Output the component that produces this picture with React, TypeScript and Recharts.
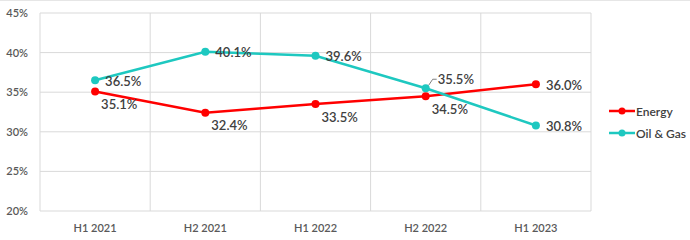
import { LineChart, Line, XAxis, YAxis, CartesianGrid } from 'recharts';

const periods = ['H1 2021', 'H2 2021', 'H1 2022', 'H2 2022', 'H1 2023'];
const energy = [35.1, 32.4, 33.5, 34.5, 36.0];
const oilGas = [36.5, 40.1, 39.6, 35.5, 30.8];
const yTicks = [20, 25, 30, 35, 40, 45];

const data = periods.map((p, i) => ({ period: p, energy: energy[i], oilGas: oilGas[i] }));

const RED = '#FF0000';
const TEAL = '#1EC8C0';
const FONT = 'Lato, "Open Sans", sans-serif';

const fmt = (v: number) => `${v.toFixed(1)}%`;

function EnergyLabel(props: any) {
  const { x, y, value, index } = props;
  const last = index === energy.length - 1;
  return (
    <text x={x + (last ? 10 : 6)} y={y + (last ? 1 : 13)} dy="0.35em" fontSize={13} fontWeight={600} fill="#404040" fontFamily={FONT}>
      {fmt(value)}
    </text>
  );
}

function OilLabel(props: any) {
  const { x, y, value, index } = props;
  if (index === 3) {
    return (
      <g>
        <polyline points={`${x + 3},${y - 3} ${x + 7},${y - 9} ${x + 11},${y - 9}`} fill="none" stroke="#7f7f7f" strokeWidth={1} />
        <text x={x + 12} y={y - 9} dy="0.35em" fontSize={13} fontWeight={600} fill="#404040" fontFamily={FONT}>
          {fmt(value)}
        </text>
      </g>
    );
  }
  return (
    <text x={x + 10} y={y + 1} dy="0.35em" fontSize={13} fontWeight={600} fill="#404040" fontFamily={FONT}>
      {fmt(value)}
    </text>
  );
}

const legendItems = [
  { name: 'Energy', color: RED },
  { name: 'Oil & Gas', color: TEAL },
];

function ChartLegend() {
  return (
    <div style={{ position: 'absolute', left: 609, top: 99, fontFamily: FONT, fontSize: 12, fontWeight: 600, color: '#404040' }}>
      {legendItems.map((it) => (
        <div key={it.name} style={{ display: 'flex', alignItems: 'center', height: 22 }}>
          <svg width={26} height={10} style={{ marginRight: 1 }}>
            <line x1={0} y1={5} x2={26} y2={5} stroke={it.color} strokeWidth={2.5} />
            <circle cx={13} cy={5} r={3.5} fill={it.color} />
          </svg>
          <span>{it.name}</span>
        </div>
      ))}
    </div>
  );
}

export default function App() {
  return (
    <div style={{ position: 'absolute', left: 0, top: 0, width: 690, height: 240, background: '#fff', borderTop: '1px solid #e6e6e6', boxSizing: 'border-box' }}>
      <LineChart width={690} height={239} data={data} margin={{ top: 12, right: 99, bottom: 0, left: 0 }}>
        <CartesianGrid
          stroke="#d9d9d9"
          verticalCoordinatesGenerator={({ offset }: any) =>
            periods.map((_, i) => offset.left + (i * offset.width) / periods.length).concat(offset.left + offset.width)
          }
        />
        <XAxis
          dataKey="period"
          scale="band"
          axisLine={false}
          tickLine={false}
          height={29}
          tickMargin={7}
          tick={{ fontSize: 11, fontWeight: 600, fill: '#595959', fontFamily: FONT }}
        />
        <YAxis
          domain={[20, 45]}
          ticks={yTicks}
          width={40}
          axisLine={false}
          tickLine={false}
          tickMargin={6}
          tickFormatter={(v: number) => `${v}%`}
          tick={{ fontSize: 11, fontWeight: 600, fill: '#595959', fontFamily: FONT }}
        />
        <Line
          type="linear"
          dataKey="energy"
          name="Energy"
          stroke={RED}
          strokeWidth={2.5}
          dot={{ r: 4, fill: RED, stroke: RED, strokeWidth: 0 }}
          label={<EnergyLabel />}
          isAnimationActive={false}
        />
        <Line
          type="linear"
          dataKey="oilGas"
          name="Oil & Gas"
          stroke={TEAL}
          strokeWidth={2.5}
          dot={{ r: 4, fill: TEAL, stroke: TEAL, strokeWidth: 0 }}
          label={<OilLabel />}
          isAnimationActive={false}
        />
      </LineChart>
      <ChartLegend />
    </div>
  );
}
